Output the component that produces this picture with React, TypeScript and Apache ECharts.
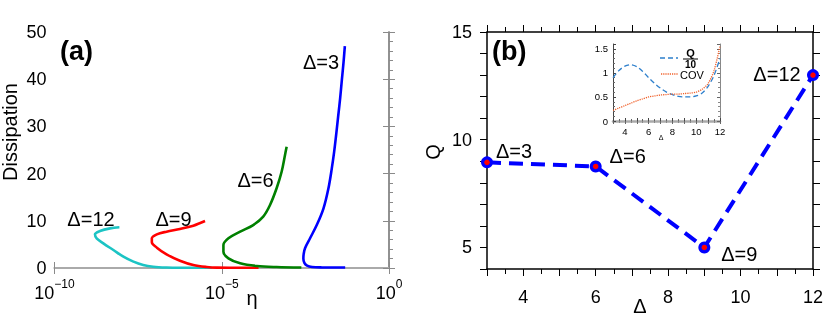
import React, { useEffect, useRef } from 'react';
import * as echarts from 'echarts';

// ---------- Panel (a): dissipation vs log10(eta) ----------
const etaExpTicks = [-10, -5, 0];
const d3LogEta = [-1.31, -2.0, -2.3, -2.45, -2.53, -2.56, -2.55, -2.51, -2.36, -2.16, -1.96, -1.81, -1.71, -1.64, -1.58, -1.52, -1.46, -1.41, -1.36, -1.32];
const d3Diss = [0.1, 0.12, 0.2, 0.5, 1.1, 2.0, 3.0, 4.2, 6.3, 9.1, 12.6, 16.9, 21.1, 24.6, 28.2, 32.1, 36.0, 39.8, 43.5, 47.0];
const d6LogEta = [-2.62, -3.36, -3.95, -4.45, -4.8, -4.95, -4.95, -4.8, -4.45, -4.06, -3.76, -3.56, -3.36, -3.21, -3.11, -3.06];
const d6Diss = [0.1, 0.2, 0.42, 0.99, 2.05, 3.46, 4.87, 6.29, 7.7, 9.1, 10.9, 13.3, 16.9, 20.4, 23.9, 25.7];
const d9LogEta = [-3.9, -4.6, -5.15, -5.45, -5.85, -6.25, -6.65, -6.94, -7.09, -7.09, -6.94, -6.65, -6.25, -5.85, -5.5];
const d9Diss = [0.05, 0.05, 0.08, 0.21, 0.64, 1.55, 2.89, 4.31, 5.44, 6.28, 7.13, 7.7, 8.26, 8.97, 9.96];
const d12LogEta = [-5.3, -6.25, -6.65, -7.05, -7.35, -7.64, -7.94, -8.24, -8.54, -8.74, -8.79, -8.64, -8.34, -8.06];
const d12Diss = [0.05, 0.05, 0.1, 0.28, 0.64, 1.34, 2.4, 3.81, 5.22, 6.28, 7.13, 7.84, 8.4, 8.62];
const curveNames = ['Δ=12', 'Δ=9', 'Δ=6', 'Δ=3'];

// ---------- Panel (b): Q vs Delta ----------
const deltaB = [3, 6, 9, 12];
const qB = [8.95, 8.76, 5.0, 13.0];
const qLabels = ['Δ=3', 'Δ=6', 'Δ=9', 'Δ=12'];

// ---------- Inset ----------
const insetDelta = [3, 3.5, 4, 4.5, 5, 5.5, 6, 6.5, 7, 7.5, 8, 8.5, 9, 9.5, 10, 10.5, 11, 11.5, 12];
const insetQ10 = [0.9, 1.05, 1.14, 1.17, 1.13, 1.03, 0.9, 0.78, 0.68, 0.6, 0.55, 0.51, 0.5, 0.5, 0.52, 0.58, 0.72, 0.95, 1.3];
const insetCOV = [0.22, 0.27, 0.32, 0.37, 0.42, 0.46, 0.5, 0.52, 0.54, 0.55, 0.56, 0.56, 0.57, 0.58, 0.6, 0.66, 0.78, 1.05, 1.56];

const FONT = '"Liberation Sans", Arial, sans-serif';

const zip = (a: number[], b: number[]) => a.map((v, i) => [v, b[i]]);

export default function App() {
  const ref = useRef<HTMLDivElement>(null);
  useEffect(() => {
    document.body.style.margin = '0';
    const chart = echarts.init(ref.current!, null, { renderer: 'svg' });
    const grey = '#8a8a8a';
    const noSplit = { show: false };
    const labelOffsets: [number, number][] = [[27, -11], [32, -10], [35, 7], [-36, -1]];
    const curveColors = ['#1cc4c4', '#ff0000', '#008000', '#0000ff'];
    const curves = [zip(d12LogEta, d12Diss), zip(d9LogEta, d9Diss), zip(d6LogEta, d6Diss), zip(d3LogEta, d3Diss)];

    const option: any = {
      animation: false,
      textStyle: { fontFamily: FONT },
      grid: [
        { left: 54.5, top: 32, width: 334.5, height: 236 },
        { left: 487, top: 32, width: 326, height: 237 },
        { left: 613, top: 44, width: 107, height: 77 },
      ],
      xAxis: [
        {
          gridIndex: 0, type: 'value', min: -10, max: 0, interval: 5, position: 'bottom',
          axisLine: { lineStyle: { color: '#555', width: 1.5 } },
          axisTick: { show: true, length: 6, lineStyle: { color: grey } },
          splitLine: noSplit,
          axisLabel: {
            margin: 10,
            formatter: (v: number) => {
              const e = Math.round(v);
              if (!etaExpTicks.includes(e)) return '';
              return '{b|10}{s|' + (e < 0 ? '−' + -e : String(e)) + '}';
            },
            rich: {
              b: { fontSize: 18, fontFamily: FONT, color: '#000', lineHeight: 24, verticalAlign: 'bottom' },
              s: { fontSize: 12, fontFamily: FONT, color: '#000', lineHeight: 24, verticalAlign: 'top' },
            },
          },
        },
        {
          gridIndex: 0, type: 'value', min: -10, max: 0, interval: 5, position: 'top',
          axisLine: { lineStyle: { color: '#aaa', width: 2 } },
          axisTick: { show: true, length: 6, lineStyle: { color: grey } },
          axisLabel: { show: false }, splitLine: noSplit,
        },
        {
          gridIndex: 1, type: 'value', min: 3, max: 12, interval: 1, position: 'bottom',
          axisLine: { lineStyle: { color: '#000', width: 1.5 } },
          axisTick: { show: true, length: 7, lineStyle: { color: '#000' } },
          minorTick: { show: true, splitNumber: 2, length: 5, lineStyle: { color: '#000' } },
          splitLine: noSplit, minorSplitLine: noSplit,
          axisLabel: {
            margin: 19, fontSize: 18, color: '#000', fontFamily: FONT,
            formatter: (v: number) => (Math.round(v) % 2 === 0 ? String(v) : ''),
          },
        },
        {
          gridIndex: 1, type: 'value', min: 3, max: 12, interval: 1, position: 'top',
          axisLine: { lineStyle: { color: '#000', width: 1.5 } },
          axisTick: { show: true, length: 7, lineStyle: { color: '#000' } },
          minorTick: { show: true, splitNumber: 2, length: 5, lineStyle: { color: '#000' } },
          splitLine: noSplit, minorSplitLine: noSplit, axisLabel: { show: false },
        },
        {
          gridIndex: 2, type: 'value', min: 3, max: 12, interval: 1, position: 'bottom',
          axisLine: { lineStyle: { color: '#444', width: 1 } },
          axisTick: { show: true, inside: true, length: 3, lineStyle: { color: '#444' } },
          minorTick: { show: true, splitNumber: 2, length: 2, lineStyle: { color: '#666' } },
          splitLine: noSplit, minorSplitLine: noSplit,
          axisLabel: {
            margin: 5, fontSize: 9.5, color: '#000', fontFamily: FONT,
            formatter: (v: number) => (Math.round(v) % 2 === 0 ? String(v) : ''),
          },
        },
        {
          gridIndex: 2, type: 'value', min: 3, max: 12, interval: 1, position: 'top',
          axisLine: { lineStyle: { color: '#aaa', width: 2.5 } },
          axisTick: { show: true, inside: true, length: 3, lineStyle: { color: '#666' } },
          minorTick: { show: true, splitNumber: 2, length: 2, lineStyle: { color: '#888' } },
          splitLine: noSplit, minorSplitLine: noSplit, axisLabel: { show: false },
        },
      ],
      yAxis: [
        {
          gridIndex: 0, type: 'value', min: 0, max: 50, interval: 10, position: 'left',
          axisLine: { show: true, lineStyle: { color: grey, width: 1.5 } },
          axisTick: { show: true, length: 6, lineStyle: { color: grey } },
          splitLine: noSplit,
          axisLabel: { margin: 8, fontSize: 18, color: '#000', fontFamily: FONT },
        },
        {
          gridIndex: 0, type: 'value', min: 0, max: 50, interval: 10, position: 'right',
          axisLine: { show: true, lineStyle: { color: grey, width: 1.5 } },
          axisTick: { show: true, length: 6, lineStyle: { color: grey } },
          minorTick: { show: true, splitNumber: 5, length: 4, lineStyle: { color: grey } },
          splitLine: noSplit, minorSplitLine: noSplit, axisLabel: { show: false },
        },
        {
          gridIndex: 1, type: 'value', min: 4, max: 15, interval: 1, position: 'left',
          axisLine: { show: true, lineStyle: { color: '#000', width: 1.5 } },
          axisTick: { show: true, length: 7, lineStyle: { color: '#000' } },
          splitLine: noSplit,
          axisLabel: {
            margin: 15, fontSize: 18, color: '#000', fontFamily: FONT,
            formatter: (v: number) => (Math.round(v) % 5 === 0 ? String(v) : ''),
          },
        },
        {
          gridIndex: 1, type: 'value', min: 4, max: 15, interval: 1, position: 'right',
          axisLine: { show: true, lineStyle: { color: '#000', width: 1.5 } },
          axisTick: { show: true, length: 7, lineStyle: { color: '#000' } },
          splitLine: noSplit, axisLabel: { show: false },
        },
        {
          gridIndex: 2, type: 'value', min: 0, max: 1.6, interval: 0.5, position: 'left',
          axisLine: { show: true, lineStyle: { color: '#444', width: 1 } },
          axisTick: { show: true, inside: true, length: 3, lineStyle: { color: '#444' } },
          minorTick: { show: true, splitNumber: 5, length: 2, lineStyle: { color: '#666' } },
          splitLine: noSplit, minorSplitLine: noSplit,
          axisLabel: { margin: 5, fontSize: 9.5, color: '#000', fontFamily: FONT, showMaxLabel: false },
        },
        {
          gridIndex: 2, type: 'value', min: 0, max: 1.6, interval: 0.5, position: 'right',
          axisLine: { show: true, lineStyle: { color: '#888', width: 1 } },
          axisTick: { show: true, inside: true, length: 3, lineStyle: { color: '#666' } },
          minorTick: { show: true, splitNumber: 5, length: 2, lineStyle: { color: '#888' } },
          splitLine: noSplit, minorSplitLine: noSplit, axisLabel: { show: false },
        },
      ],
      series: [
        ...curves.map((d, i) => ({
          name: curveNames[i], type: 'line', xAxisIndex: 0, yAxisIndex: 0,
          data: d, showSymbol: false, smooth: 0.35,
          lineStyle: { color: curveColors[i], width: 2.6 }, z: 3 + i,
        })),
        {
          type: 'line', xAxisIndex: 2, yAxisIndex: 2, data: zip(deltaB, qB), showSymbol: false,
          lineStyle: { color: '#0000ff', width: 4, type: [14, 8] }, z: 3,
        },
        {
          type: 'scatter', xAxisIndex: 2, yAxisIndex: 2, symbolSize: 12,
          itemStyle: { color: '#0000ff', opacity: 1 }, z: 4,
          data: deltaB.map((x, i) => ({
            value: [x, qB[i]],
            label: { show: true, formatter: qLabels[i], position: 'inside', offset: labelOffsets[i], fontSize: 20, color: '#000', fontFamily: FONT },
          })),
        },
        {
          type: 'scatter', xAxisIndex: 2, yAxisIndex: 2, symbolSize: 5.5,
          itemStyle: { color: '#ff0000', opacity: 1 }, z: 5, data: zip(deltaB, qB),
        },
        {
          type: 'line', xAxisIndex: 4, yAxisIndex: 4, data: zip(insetDelta, insetQ10), showSymbol: false, smooth: 0.3,
          lineStyle: { color: '#2d7fcc', width: 1.3, type: [5, 3] }, z: 6,
        },
        {
          type: 'line', xAxisIndex: 4, yAxisIndex: 4, data: zip(insetDelta, insetCOV), showSymbol: false, smooth: 0.3,
          lineStyle: { color: '#f0602a', width: 1.3, type: [1.2, 1] }, z: 6,
        },
      ],
      graphic: [
        { type: 'text', left: 60, top: 37, style: { text: '(a)', font: `bold 27px ${FONT}`, fill: '#000' } },
        { type: 'text', left: 492, top: 37, style: { text: '(b)', font: `bold 27px ${FONT}`, fill: '#000' } },
        { type: 'text', x: 10, y: 132, rotation: Math.PI / 2, style: { text: 'Dissipation', font: `20px ${FONT}`, fill: '#000', align: 'center', verticalAlign: 'middle' } },
        { type: 'text', x: 252, y: 298, style: { text: 'η', font: `20px ${FONT}`, fill: '#000', align: 'center', verticalAlign: 'middle' } },
        { type: 'text', x: 433, y: 152, rotation: Math.PI / 2, style: { text: 'Q', font: `20px ${FONT}`, fill: '#000', align: 'center', verticalAlign: 'middle' } },
        { type: 'text', x: 640, y: 306, style: { text: 'Δ', font: `20px ${FONT}`, fill: '#000', align: 'center', verticalAlign: 'middle' } },
        { type: 'text', x: 661, y: 137, style: { text: 'Δ', font: `7px ${FONT}`, fill: '#000', align: 'center', verticalAlign: 'middle' } },
        { type: 'text', x: 321, y: 62, style: { text: curveNames[3], font: `20px ${FONT}`, fill: '#000', align: 'center', verticalAlign: 'middle' } },
        { type: 'text', x: 255.5, y: 180, style: { text: curveNames[2], font: `20px ${FONT}`, fill: '#000', align: 'center', verticalAlign: 'middle' } },
        { type: 'text', x: 173.5, y: 219, style: { text: curveNames[1], font: `20px ${FONT}`, fill: '#000', align: 'center', verticalAlign: 'middle' } },
        { type: 'text', x: 91, y: 219, style: { text: curveNames[0], font: `20px ${FONT}`, fill: '#000', align: 'center', verticalAlign: 'middle' } },
        // inset legend
        { type: 'line', shape: { x1: 660, y1: 58, x2: 678, y2: 58 }, style: { stroke: '#2d7fcc', lineWidth: 1.3, lineDash: [5, 3] } },
        { type: 'text', x: 690.5, y: 52.5, style: { text: 'Q', font: `bold 11px ${FONT}`, fill: '#000', align: 'center', verticalAlign: 'middle' } },
        { type: 'line', shape: { x1: 683, y1: 59, x2: 698, y2: 59 }, style: { stroke: '#000', lineWidth: 1 } },
        { type: 'text', x: 690.5, y: 64.5, style: { text: '10', font: `bold 10px ${FONT}`, fill: '#000', align: 'center', verticalAlign: 'middle' } },
        { type: 'line', shape: { x1: 661, y1: 74, x2: 678, y2: 74 }, style: { stroke: '#f0602a', lineWidth: 1.3, lineDash: [1.2, 1] } },
        { type: 'text', x: 680, y: 74.5, style: { text: 'COV', font: `11px ${FONT}`, fill: '#000', align: 'left', verticalAlign: 'middle' } },
      ],
    };
    chart.setOption(option);
    return () => chart.dispose();
  }, []);
  return <div ref={ref} style={{ position: 'fixed', left: 0, top: 0, width: 830, height: 329 }} />;
}
